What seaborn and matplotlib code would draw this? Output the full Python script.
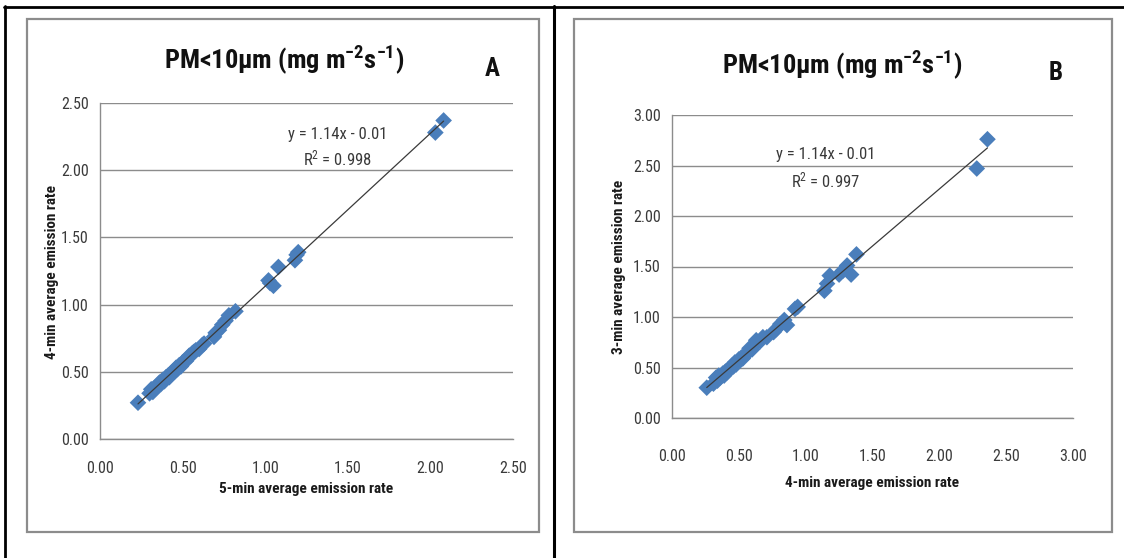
import numpy as np
import pandas as pd
import matplotlib
matplotlib.use("Agg")
import matplotlib.pyplot as plt
import seaborn as sns
from matplotlib.lines import Line2D
from matplotlib.patches import Rectangle
from matplotlib import font_manager as fm

# ---------------- data ----------------
a_x = [0.23, 0.30, 0.31, 0.32, 0.33, 0.34, 0.35, 0.36, 0.37, 0.38, 0.39, 0.40,
       0.41, 0.42, 0.43, 0.44, 0.45, 0.46, 0.47, 0.48, 0.49, 0.50, 0.51, 0.52,
       0.53, 0.54, 0.55, 0.56, 0.57, 0.58, 0.60, 0.62, 0.63, 0.69, 0.70, 0.72,
       0.74, 0.76, 0.78, 0.82, 1.02, 1.03, 1.05, 1.08, 1.18, 1.19, 1.20, 2.03, 2.08]
a_y = [0.27, 0.34, 0.37, 0.35, 0.38, 0.38, 0.40, 0.42, 0.41, 0.44, 0.43, 0.46,
       0.47, 0.46, 0.49, 0.50, 0.50, 0.53, 0.52, 0.55, 0.54, 0.57, 0.58, 0.58,
       0.60, 0.62, 0.62, 0.64, 0.65, 0.66, 0.67, 0.70, 0.71, 0.76, 0.79, 0.81,
       0.85, 0.88, 0.92, 0.95, 1.18, 1.16, 1.14, 1.28, 1.33, 1.37, 1.39, 2.28, 2.37]

b_x = [0.26, 0.31, 0.33, 0.34, 0.35, 0.36, 0.38, 0.39, 0.40, 0.41, 0.42, 0.44,
       0.45, 0.46, 0.47, 0.48, 0.50, 0.52, 0.53, 0.55, 0.57, 0.58, 0.60, 0.62,
       0.63, 0.66, 0.68, 0.71, 0.76, 0.78, 0.81, 0.84, 0.86, 0.92, 0.94, 1.14,
       1.16, 1.18, 1.25, 1.28, 1.31, 1.34, 1.38, 2.28, 2.36]
b_y = [0.30, 0.34, 0.40, 0.37, 0.42, 0.40, 0.44, 0.42, 0.46, 0.45, 0.48, 0.50,
       0.52, 0.51, 0.55, 0.53, 0.58, 0.60, 0.59, 0.63, 0.65, 0.69, 0.68, 0.73,
       0.77, 0.76, 0.80, 0.80, 0.85, 0.88, 0.93, 0.97, 0.92, 1.08, 1.10, 1.26,
       1.33, 1.41, 1.42, 1.46, 1.51, 1.42, 1.62, 2.47, 2.76]

a_ticks = [0.0, 0.5, 1.0, 1.5, 2.0, 2.5]
b_ticks = [0.0, 0.5, 1.0, 1.5, 2.0, 2.5, 3.0]

a_xlabel = "5-min average emission rate"
a_ylabel = "4-min average emission rate"
b_xlabel = "4-min average emission rate"
b_ylabel = "3-min average emission rate"
eq_line = "y = 1.14x - 0.01"
a_r2 = "0.998"
b_r2 = "0.997"

df_a = pd.DataFrame({"x": a_x, "y": a_y})
df_b = pd.DataFrame({"x": b_x, "y": b_y})

# ---------------- style ----------------
sns.set_theme(style="white")
installed = {f.name for f in fm.fontManager.ttflist}
MAIN = "Roboto Condensed" if "Roboto Condensed" in installed else "Lato"
FONT = [MAIN, "DejaVu Sans"]
plt.rcParams["font.family"] = FONT
plt.rcParams["mathtext.fontset"] = "custom"
plt.rcParams["mathtext.rm"] = MAIN
plt.rcParams["mathtext.it"] = MAIN
plt.rcParams["mathtext.bf"] = MAIN + ":bold"
plt.rcParams["mathtext.sf"] = MAIN

title_text = r"PM<10μm (mg m$^{\mathbf{-2}}$s$^{\mathbf{-1}}$)"

W, H = 1124, 558
fig = plt.figure(figsize=(W / 100, H / 100), dpi=100)
fig.patch.set_facecolor("white")

def fx(px):
    return px / W

def fy(py):
    return 1 - py / H

BLUE = "#4A7EBB"
GRID = "#8C8C8C"
TXT = "#3a3a3a"

def make_panel(df, rect, ticks, lim, xpad):
    x0, y0, x1, y1 = rect
    ax = fig.add_axes([fx(x0), fy(y1), fx(x1) - fx(x0), fy(y0) - fy(y1)])
    sns.regplot(data=df, x="x", y="y", ax=ax, scatter=False, ci=None,
                line_kws=dict(color="#3a3a3a", lw=0.9, zorder=4))
    sns.scatterplot(data=df, x="x", y="y", ax=ax, marker="D", s=72,
                    color=BLUE, edgecolor="none", linewidth=0, zorder=3)
    ax.set_xlim(0, lim)
    ax.set_ylim(0, lim)
    ax.set_xticks(ticks)
    ax.set_yticks(ticks)
    ax.set_xticklabels([f"{t:.2f}" for t in ticks])
    ax.set_yticklabels([f"{t:.2f}" for t in ticks])
    ax.yaxis.grid(True, color=GRID, lw=1.0)
    ax.xaxis.grid(False)
    ax.set_axisbelow(True)
    for s in ["top", "right"]:
        ax.spines[s].set_visible(False)
    for s in ["left", "bottom"]:
        ax.spines[s].set_color(GRID)
        ax.spines[s].set_linewidth(1.0)
    ax.tick_params(axis="both", which="major", direction="out", length=4,
                   width=1.0, color=GRID, labelsize=11.5, labelcolor=TXT, pad=4)
    ax.tick_params(axis="x", pad=xpad)
    ax.set_xlabel("")
    ax.set_ylabel("")
    ax.set_facecolor("none")
    return ax

ax_a = make_panel(df_a, (100, 103, 513, 439), a_ticks, 2.5, 12)
ax_b = make_panel(df_b, (672, 115, 1073, 418), b_ticks, 3.0, 18)

LBL = dict(fontsize=11, fontweight="bold", color="#1a1a1a", ha="center", va="center")
fig.text(fx(306), fy(489), a_xlabel, **LBL)
fig.text(fx(52), fy(272), a_ylabel, rotation=90, **LBL)
fig.text(fx(872), fy(483), b_xlabel, **LBL)
fig.text(fx(619), fy(267), b_ylabel, rotation=90, **LBL)

# equations
EQ = dict(ha="center", va="center", fontsize=12, color=TXT)
fig.text(fx(338), fy(135), eq_line, **EQ)
fig.text(fx(338), fy(158), r"R$^{2}$ = " + a_r2, **EQ)
fig.text(fx(826), fy(155), eq_line, **EQ)
fig.text(fx(826), fy(180), r"R$^{2}$ = " + b_r2, **EQ)

# titles
TT = dict(ha="center", va="center", fontsize=19, fontweight="bold", color="#111111")
fig.text(fx(284), fy(60), title_text, **TT)
fig.text(fx(842), fy(65), title_text, **TT)
fig.text(fx(492), fy(69), "A", ha="center", va="center", fontsize=18,
         fontweight="bold", color="#111111")
fig.text(fx(1056), fy(73), "B", ha="center", va="center", fontsize=18,
         fontweight="bold", color="#111111")

# inner chart frames (grey)
for (x0, y0, x1, y1) in [(27, 19, 539, 532), (574, 19, 1112, 532)]:
    fig.add_artist(Rectangle((fx(x0), fy(y1)), fx(x1) - fx(x0), fy(y0) - fy(y1),
                             transform=fig.transFigure, fill=False,
                             edgecolor="#8C8C8C", lw=1.6, zorder=0))

# outer black table lines
fig.add_artist(Line2D([fx(4), fx(1124)], [fy(6.5), fy(6.5)], transform=fig.transFigure,
                      color="black", lw=2.0))
fig.add_artist(Line2D([fx(5), fx(5)], [fy(6), fy(558)], transform=fig.transFigure,
                      color="black", lw=2.0))
fig.add_artist(Line2D([fx(553.5), fx(553.5)], [fy(6), fy(558)], transform=fig.transFigure,
                      color="black", lw=2.2))

fig.savefig("out.png", dpi=100, facecolor="white")
